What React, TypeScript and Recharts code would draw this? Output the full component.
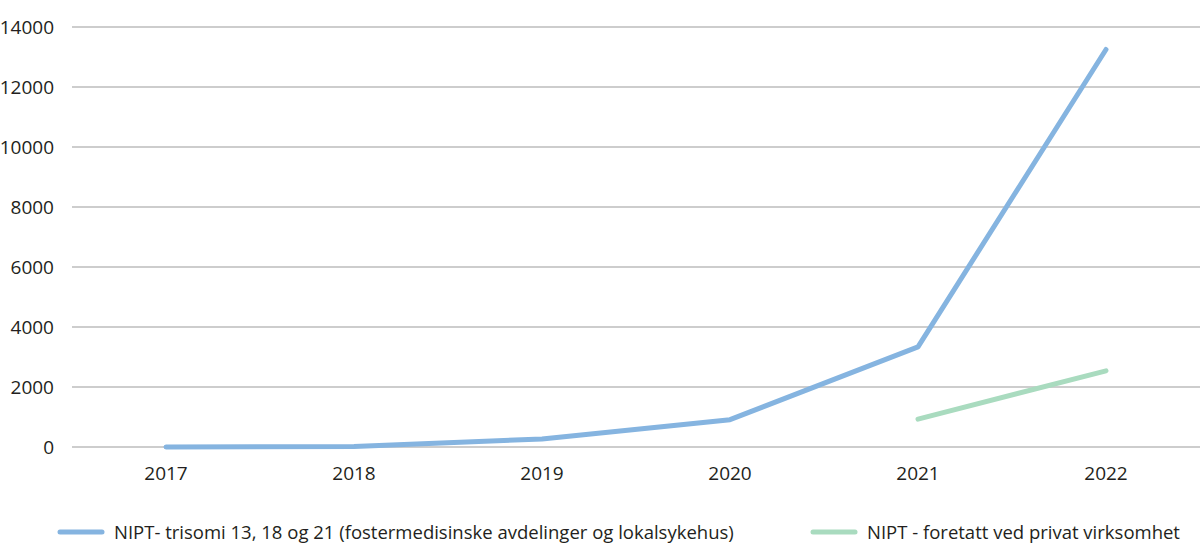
import { CartesianGrid, Legend, Line, LineChart, XAxis, YAxis } from "recharts";

const YEARS = ["2017", "2018", "2019", "2020", "2021", "2022"];
const PUBLIC_NIPT = [0, 20, 270, 910, 3340, 13250];
const PRIVATE_NIPT: (number | null)[] = [null, null, null, null, 930, 2540];
const Y_TICKS = [0, 2000, 4000, 6000, 8000, 10000, 12000, 14000];

const SERIES = [
  { key: "pub", label: "NIPT- trisomi 13, 18 og 21 (fostermedisinske avdelinger og lokalsykehus)", color: "#85b4e0" },
  { key: "priv", label: "NIPT - foretatt ved privat virksomhet", color: "#a9dbbf" },
];

const data = YEARS.map((year, i) => ({ year, pub: PUBLIC_NIPT[i], priv: PRIVATE_NIPT[i] }));

const FONT = "'Open Sans', sans-serif";
const TICK = { fill: "#231f20", fontSize: 19, fontFamily: FONT };

function LegendRow() {
  return (
    <div style={{ position: "relative", height: 40, fontFamily: FONT, fontSize: 18.5, color: "#231f20" }}>
      {SERIES.map((s, i) => (
        <div
          key={s.key}
          style={{ position: "absolute", left: i === 0 ? 57 : 810, top: 0, display: "flex", alignItems: "center", whiteSpace: "nowrap" }}
        >
          <svg width={48} height={10} style={{ marginRight: 9 }}>
            <line x1={3} y1={5} x2={45} y2={5} stroke={s.color} strokeWidth={5} strokeLinecap="round" />
          </svg>
          <span>{s.label}</span>
        </div>
      ))}
    </div>
  );
}

export default function App() {
  return (
    <div style={{ position: "absolute", left: 0, top: 0, width: 1200, height: 558, background: "#fff" }}>
      <LineChart width={1200} height={558} data={data} margin={{ top: 27, right: 0, left: 0, bottom: 0 }}>
        <CartesianGrid vertical={false} stroke="#9c9c9c" strokeWidth={1.2} />
        <XAxis
          dataKey="year"
          tick={TICK}
          tickLine={false}
          axisLine={false}
          tickSize={0}
          tickMargin={20}
          padding={{ left: 94, right: 94 }}
          height={72}
        />
        <YAxis
          domain={[0, 14000]}
          ticks={Y_TICKS}
          tick={TICK}
          tickLine={false}
          axisLine={false}
          tickSize={0}
          tickMargin={18}
          width={72}
        />
        <Legend verticalAlign="bottom" height={39} content={() => <LegendRow />} />
        <Line
          dataKey="pub"
          stroke={SERIES[0].color}
          strokeWidth={5}
          strokeLinecap="round"
          strokeLinejoin="round"
          dot={false}
          isAnimationActive={false}
        />
        <Line
          dataKey="priv"
          stroke={SERIES[1].color}
          strokeWidth={5}
          strokeLinecap="round"
          strokeLinejoin="round"
          dot={false}
          isAnimationActive={false}
        />
      </LineChart>
    </div>
  );
}
